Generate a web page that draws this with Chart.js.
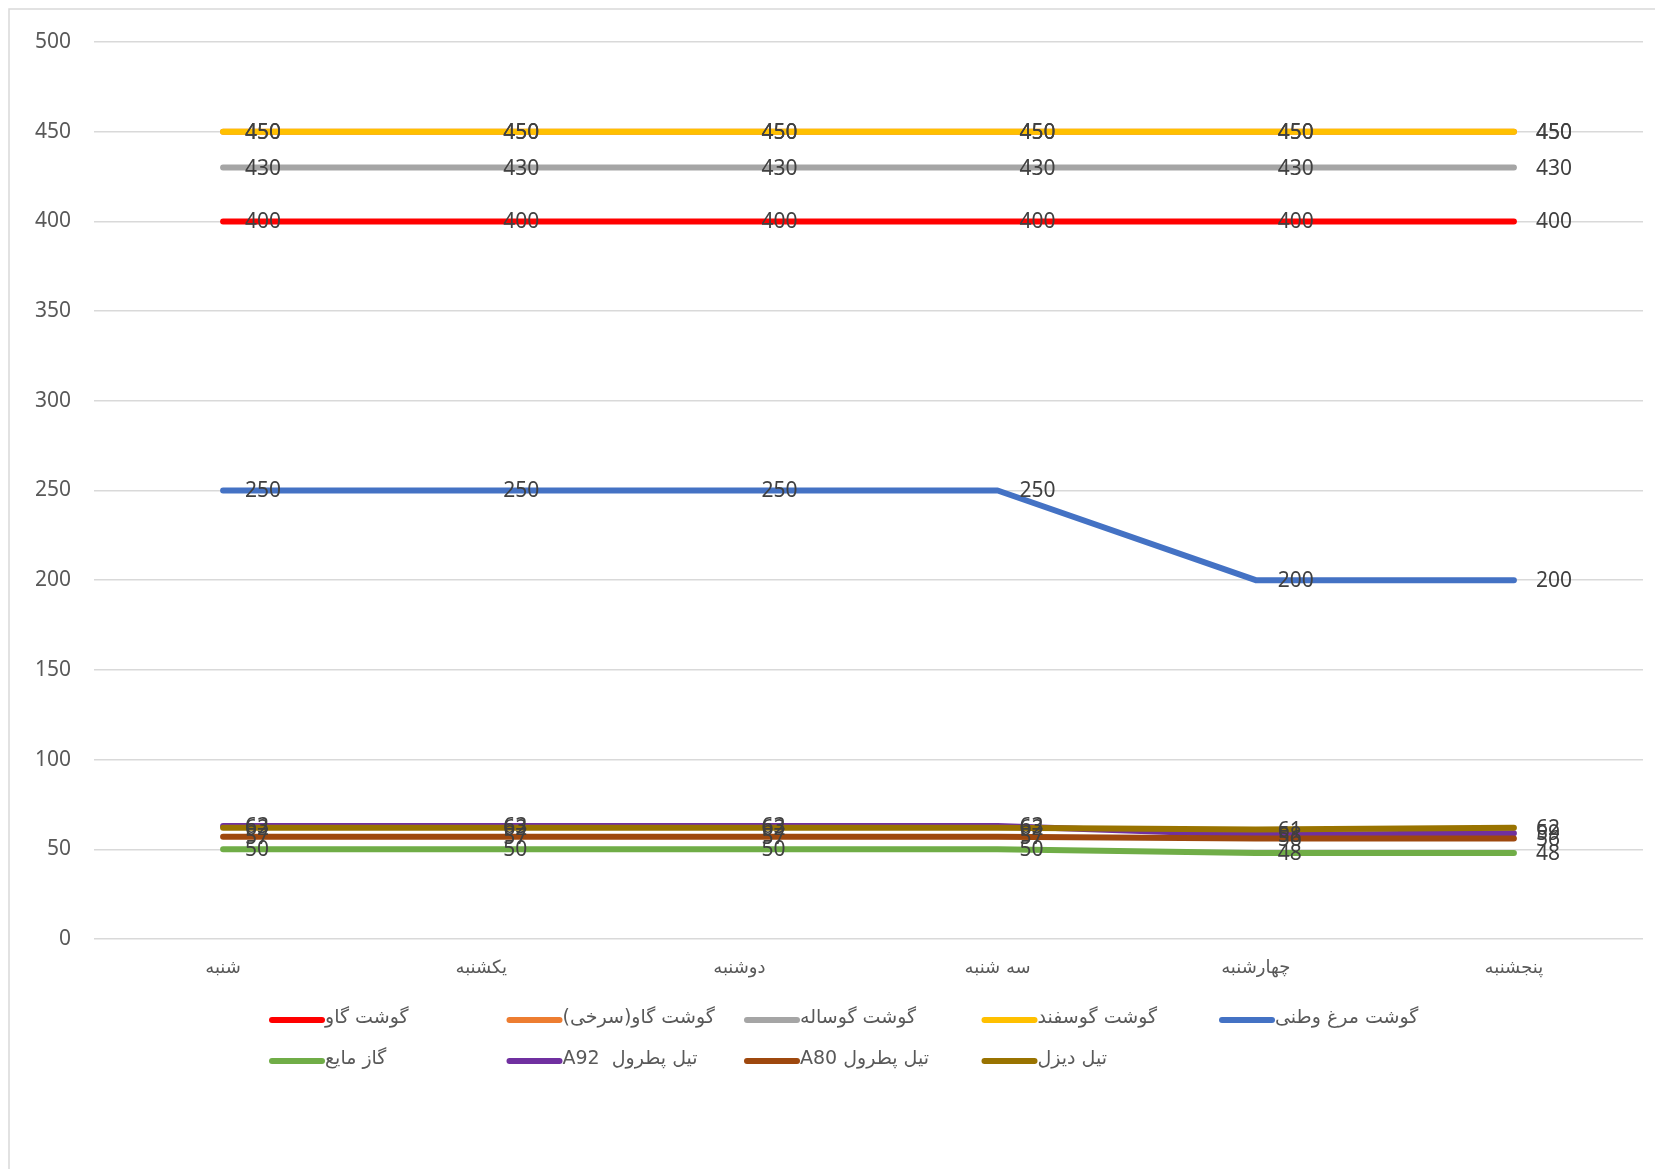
<!DOCTYPE html>
<html>
<head>
<meta charset="utf-8">
<script src="https://cdn.jsdelivr.net/npm/chart.js@4.4.1/dist/chart.umd.min.js"></script>
<style>
  body { margin: 0; background: #fff; }
  #wrap { position: relative; width: 1655px; height: 1169px; }
</style>
</head>
<body>
<div id="wrap"><canvas id="priceChart" width="1655" height="1169"></canvas></div>
<script>
// ========== data ==========
const days = ["شنبه", "یکشنبه", "دوشنبه", "سه شنبه", "چهارشنبه", "پنجشنبه"];
const yTicks = [0, 50, 100, 150, 200, 250, 300, 350, 400, 450, 500];

const beef      = [400, 400, 400, 400, 400, 400];
const redBeef   = [450, 450, 450, 450, 450, 450];
const veal      = [430, 430, 430, 430, 430, 430];
const lamb      = [450, 450, 450, 450, 450, 450];
const chicken   = [250, 250, 250, 250, 200, 200];
const gas       = [50, 50, 50, 50, 48, 48];
const petrolA92 = [63, 63, 63, 63, 58, 59];
const petrolA80 = [57, 57, 57, 57, 56, 56];
const diesel    = [62, 62, 62, 62, 61, 62];

const seriesNames = [
  "گوشت گاو", "گوشت گاو(سرخی)", "گوشت گوساله", "گوشت گوسفند", "گوشت مرغ وطنی",
  "گاز مایع", "تیل پطرول  A92", "تیل پطرول A80", "تیل دیزل"
];
const seriesData = [beef, redBeef, veal, lamb, chicken, gas, petrolA92, petrolA80, diesel];
const seriesColors = ["#FF0000", "#ED7D31", "#A5A5A5", "#FFC000", "#4472C4",
                      "#70AD47", "#7030A0", "#9E480E", "#997300"];

const numFont = "'Noto Sans', 'Open Sans', sans-serif";
const faFont = "'DejaVu Sans', 'Noto Sans', sans-serif";

const datasets = seriesData.map((d, i) => ({
  label: seriesNames[i],
  data: d,
  borderColor: seriesColors[i],
  backgroundColor: seriesColors[i],
  borderWidth: 6,
  borderCapStyle: "round",
  borderJoinStyle: "round",
  pointRadius: 0,
  pointHoverRadius: 0,
  tension: 0,
  order: seriesData.length - i   // later series drawn on top, like excel
}));

// ========== value labels next to every point ==========
const valueLabels = {
  id: "valueLabels",
  afterDatasetsDraw(chart) {
    const ctx = chart.ctx;
    ctx.save();
    ctx.font = "21px " + numFont;
    ctx.fillStyle = "#404040";
    ctx.textAlign = "left";
    ctx.textBaseline = "middle";
    chart.data.datasets.forEach((ds, i) => {
      const meta = chart.getDatasetMeta(i);
      meta.data.forEach((pt, j) => {
        ctx.fillText(String(ds.data[j]), pt.x + 22, pt.y + 1);
      });
    });
    ctx.restore();
  }
};

// ========== frame + legend grid ==========
const frameAndLegend = {
  id: "frameAndLegend",
  beforeDraw(chart) {
    const ctx = chart.ctx;
    ctx.save();
    ctx.strokeStyle = "#d9d9d9";
    ctx.lineWidth = 1.5;
    ctx.strokeRect(9, 9, 1660, 1170);
    ctx.restore();
  },
  afterDraw(chart) {
    const ctx = chart.ctx;
    ctx.save();
    chart.data.datasets.forEach((ds, i) => {
      const col = i % 5;
      const row = Math.floor(i / 5);
      const x0 = 269 + col * 237.5;
      const y0 = 1020 + row * 41;
      ctx.strokeStyle = ds.borderColor;
      ctx.lineWidth = 6;
      ctx.lineCap = "round";
      ctx.beginPath();
      ctx.moveTo(x0 + 3, y0);
      ctx.lineTo(x0 + 53, y0);
      ctx.stroke();
      ctx.fillStyle = "#595959";
      ctx.font = "19px " + faFont;
      ctx.direction = "rtl";
      ctx.textAlign = "left";
      ctx.textBaseline = "middle";
      ctx.fillText(ds.label, x0 + 56, y0 - 2);
    });
    ctx.restore();
  }
};

new Chart(document.getElementById("priceChart"), {
  type: "line",
  data: { labels: days, datasets: datasets },
  options: {
    responsive: false,
    animation: false,
    layout: { padding: { top: 42, right: 12, bottom: 170, left: 0 } },
    plugins: {
      legend: { display: false },
      tooltip: { enabled: false }
    },
    scales: {
      x: {
        offset: true,
        grid: { display: false, drawTicks: false },
        border: { display: false },
        ticks: {
          color: "#595959",
          font: { family: faFont, size: 18 },
          padding: 19,
          maxRotation: 0
        },
        afterFit(s) { s.height = 60; }
      },
      y: {
        min: 0,
        max: 500,
        afterBuildTicks(s) { s.ticks = yTicks.map(v => ({ value: v })); },
        grid: { color: "#d9d9d9", lineWidth: 1.5, drawTicks: false },
        border: { display: false },
        ticks: {
          color: "#595959",
          font: { family: numFont, size: 21 },
          padding: 23
        },
        afterFit(s) { s.width = 94; }
      }
    }
  },
  plugins: [valueLabels, frameAndLegend]
});
</script>
</body>
</html>
